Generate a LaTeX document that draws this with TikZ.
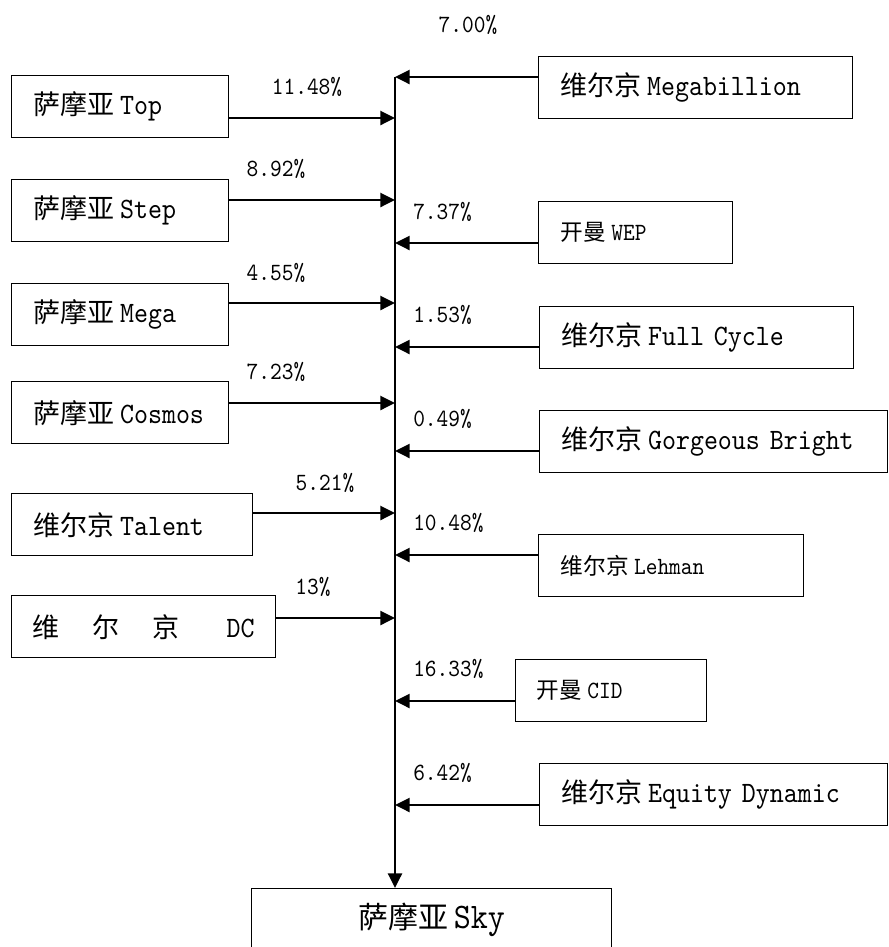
\documentclass[tikz,border=0pt]{standalone}
\usepackage{fontspec}
\setmainfont[Extension=.otf,FakeStretch=0.9]{lmmono10-regular}
\newfontfamily\cjk{Noto Sans CJK SC}
\usetikzlibrary{arrows.meta}
\newcommand\Lb{\fontsize{22.2pt}{26pt}\selectfont}
\newcommand\Ls{\fontsize{18.6pt}{22pt}\selectfont}
\newcommand\Lsky{\fontsize{27pt}{30pt}\selectfont}
\newcommand\Cb[1]{{\cjk\fontsize{20.25pt}{24pt}\selectfont #1}}
\newcommand\Cs[1]{{\cjk\fontsize{17pt}{20pt}\selectfont #1}}
\newcommand\Csky[1]{{\cjk\fontsize{22.5pt}{26pt}\selectfont #1}}
\begin{document}
\begin{tikzpicture}[x=0.75pt,y=-0.75pt,
  box/.style={draw,line width=1.1pt,inner xsep=16.5pt,inner ysep=0pt,minimum height=46.5pt,align=left,anchor=north west,font=\Lb},
  sbox/.style={box,font=\Ls},
  arr/.style={line width=1.8pt,-{Triangle[length=11pt,width=10.5pt]}},
  pct/.style={font=\Ls,inner sep=0pt}]
\useasboundingbox (0,0) rectangle (889,947);

% left boxes
\node[box,text width=129.75pt] (top)  at (11,75)  {\Cb{萨摩亚}\hspace{4pt}Top};
\node[box,text width=129.75pt] (step) at (11,179) {\Cb{萨摩亚}\hspace{4pt}Step};
\node[box,text width=129.75pt] (mega) at (11,283) {\Cb{萨摩亚}\hspace{4pt}Mega};
\node[box,text width=129.75pt] (cosm) at (11,381) {\Cb{萨摩亚}\hspace{4pt}Cosmos};
\node[box,text width=147.75pt] (tal)  at (11,493) {\Cb{维尔京}\hspace{4pt}Talent};
\node[draw,line width=1.1pt,inner xsep=0pt,inner ysep=0pt,minimum width=198pt,minimum height=46.5pt,anchor=north west,font=\Lb] (dc) at (11,595)
  {\hbox{\Cb{维}\hspace{24.75pt}\Cb{尔}\hspace{24.75pt}\Cb{京}\hspace{35pt}DC}};

% right boxes
\node[box,text width=202.5pt]  (mb)  at (538,56)  {\Cb{维尔京}\hspace{4pt}Megabillion};
\node[sbox,text width=112.5pt] (wep) at (538,201) {\Cs{开曼}\hspace{4pt}WEP};
\node[box,text width=202.5pt]  (fc)  at (539,306) {\Cb{维尔京}\hspace{4pt}Full Cycle};
\node[box,text width=228pt]    (gb)  at (539,410) {\Cb{维尔京}\hspace{4pt}Gorgeous Bright};
\node[sbox,text width=165.75pt] (leh) at (538,534) {\Cs{维尔京}\hspace{4pt}Lehman};
\node[sbox,text width=111.75pt,inner xsep=15.75pt] (cid) at (515,659) {\Cs{开曼}\hspace{4pt}CID};
\node[box,text width=228pt]    (ed)  at (539,763) {\Cb{维尔京}\hspace{4pt}Equity Dynamic};

% bottom box
\node[draw,line width=1.1pt,minimum width=270pt,minimum height=46.5pt,inner sep=0pt,anchor=north west,font=\Lsky] (sky) at (251,888) {\Csky{萨摩亚}\hspace{4pt}Sky};

% main vertical line
\coordinate (vtop) at (395,77);
\draw[arr] (vtop) -- (vtop |- sky.north);

% junctions for left arrows
\coordinate (j1) at (395,118);
\coordinate (j2) at (395,200);
\coordinate (j3) at (395,303);
\coordinate (j4) at (395,403);
\coordinate (j5) at (395,513);
\coordinate (j6) at (395,618);
\draw[arr] (top.east  |- j1) -- (j1);
\draw[arr] (step.east |- j2) -- (j2);
\draw[arr] (mega.east |- j3) -- (j3);
\draw[arr] (cosm.east |- j4) -- (j4);
\draw[arr] (tal.east  |- j5) -- (j5);
\draw[arr] (dc.east   |- j6) -- (j6);

% junctions for right arrows
\coordinate (k1) at (395,77);
\coordinate (k2) at (395,243);
\coordinate (k3) at (395,347);
\coordinate (k4) at (395,451);
\coordinate (k5) at (395,555);
\coordinate (k6) at (395,701);
\coordinate (k7) at (395,805);
\draw[arr] (mb.west  |- k1) -- (k1);
\draw[arr] (wep.west |- k2) -- (k2);
\draw[arr] (fc.west  |- k3) -- (k3);
\draw[arr] (gb.west  |- k4) -- (k4);
\draw[arr] (leh.west |- k5) -- (k5);
\draw[arr] (cid.west |- k6) -- (k6);
\draw[arr] (ed.west  |- k7) -- (k7);

% percentage labels
\node[pct] (p0)  at (468,25)  {7.00\%};
\node[pct] (p1)  at (307,87)  {11.48\%};
\node[pct] (p2)  at (276,169) {8.92\%};
\node[pct] (p3)  at (276,273) {4.55\%};
\node[pct] (p4)  at (276,372) {7.23\%};
\node[pct] (p5)  at (325,483) {5.21\%};
\node[pct] (p6)  at (313,587) {13\%};
\node[pct,anchor=west] (q1) at (413,212) {7.37\%};
\node[pct,anchor=west] (q2) at (413,315) {1.53\%};
\node[pct,anchor=west] (q3) at (413,419) {0.49\%};
\node[pct,anchor=west] (q4) at (413,523) {10.48\%};
\node[pct,anchor=west] (q5) at (413,669) {16.33\%};
\node[pct,anchor=west] (q6) at (413,773) {6.42\%};
\end{tikzpicture}
\end{document}
